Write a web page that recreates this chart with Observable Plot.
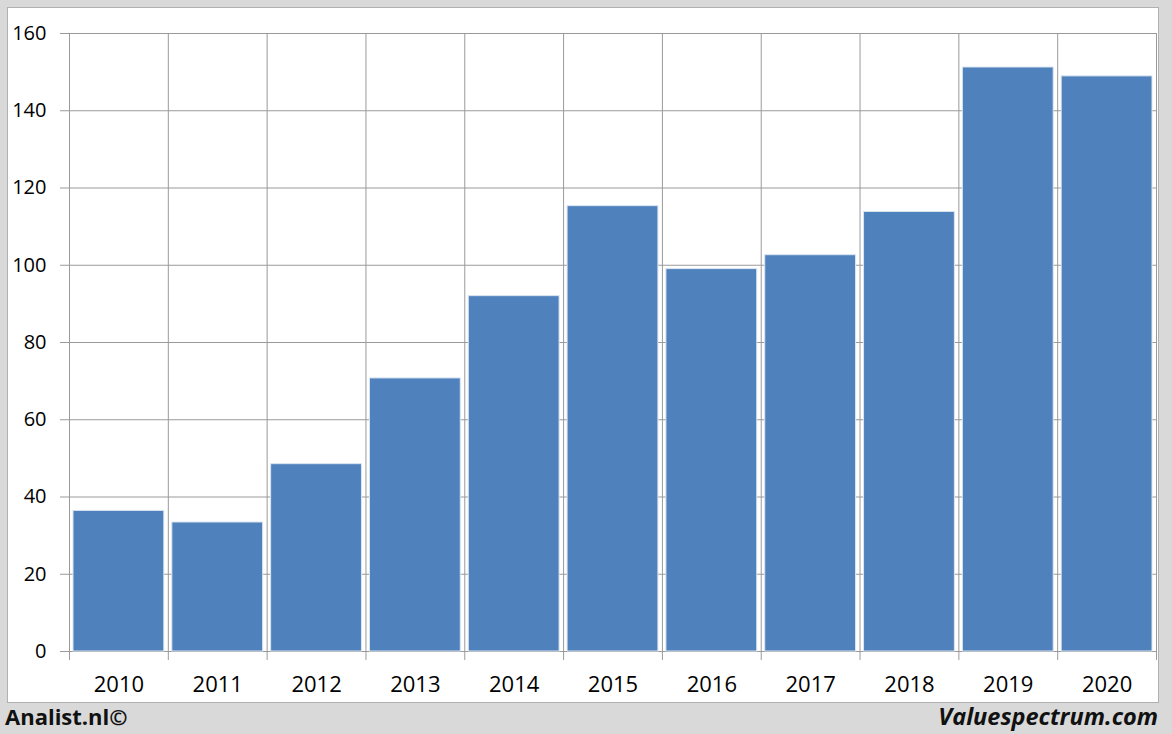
<!DOCTYPE html>
<html>
<head>
<meta charset="utf-8">
<script src="https://cdn.jsdelivr.net/npm/d3@7"></script>
<script src="https://cdn.jsdelivr.net/npm/@observablehq/plot@0.6"></script>
<style>
  html, body { margin: 0; padding: 0; }
  body { width: 1172px; height: 734px; background: #d9d9d9; position: relative; overflow: hidden; font-family: "Open Sans", "DejaVu Sans", sans-serif; }
  #panel { position: absolute; left: 7px; top: 7px; width: 1150px; height: 694px; background: #fff; border: 1px solid #b0b0b0; }
  #panel svg { display: block; overflow: visible; }
  #left { position: absolute; left: 5px; top: 701px; font-weight: bold; font-size: 22px; color: #111; }
  #right { position: absolute; right: 14px; top: 700px; font-weight: bold; font-style: italic; font-size: 23.5px; color: #111; }
</style>
</head>
<body>
<div id="panel"></div>
<div id="left">Analist.nl©</div>
<div id="right">Valuespectrum.com</div>
<script>
const years = [2010, 2011, 2012, 2013, 2014, 2015, 2016, 2017, 2018, 2019, 2020];
const values = [36.4, 33.4, 48.5, 70.7, 92.0, 115.3, 99.0, 102.6, 113.8, 151.2, 148.9];
const yTicks = [0, 20, 40, 60, 80, 100, 120, 140, 160];

const data = years.map((y, i) => ({year: y, value: values[i]}));
const bounds = years.map(y => y - 0.5).concat([years[years.length - 1] + 0.5]);

const chart = Plot.plot({
  width: 1150,
  height: 694,
  marginLeft: 61,
  marginRight: 2,
  marginTop: 25,
  marginBottom: 51,
  style: {fontFamily: "Open Sans, DejaVu Sans, sans-serif", fontSize: "20px", color: "#000", background: "#fff"},
  x: {domain: [bounds[0], bounds[bounds.length - 1]], label: null},
  y: {domain: [0, 160], label: null},
  marks: [
    Plot.ruleY(yTicks, {stroke: "#9a9a9a", strokeWidth: 1, strokeOpacity: 1, insetLeft: -9}),
    Plot.ruleX(bounds, {y1: 160, y2: 0, stroke: "#9a9a9a", strokeWidth: 1, strokeOpacity: 1, insetBottom: -9}),
    Plot.rectY(data, {x1: d => d.year - 0.5, x2: d => d.year + 0.5, y: "value", fill: "#4f81bd", stroke: "#dbe5f1", strokeWidth: 1, insetLeft: 4, insetRight: 4}),
    Plot.axisY({ticks: yTicks, tickSize: 0, tickPadding: 23, fontSize: 20}),
    Plot.axisX({ticks: years, tickFormat: d => String(d), tickSize: 0, tickPadding: 25, fontSize: 22})
  ]
});
document.getElementById("panel").appendChild(chart);
</script>
</body>
</html>
